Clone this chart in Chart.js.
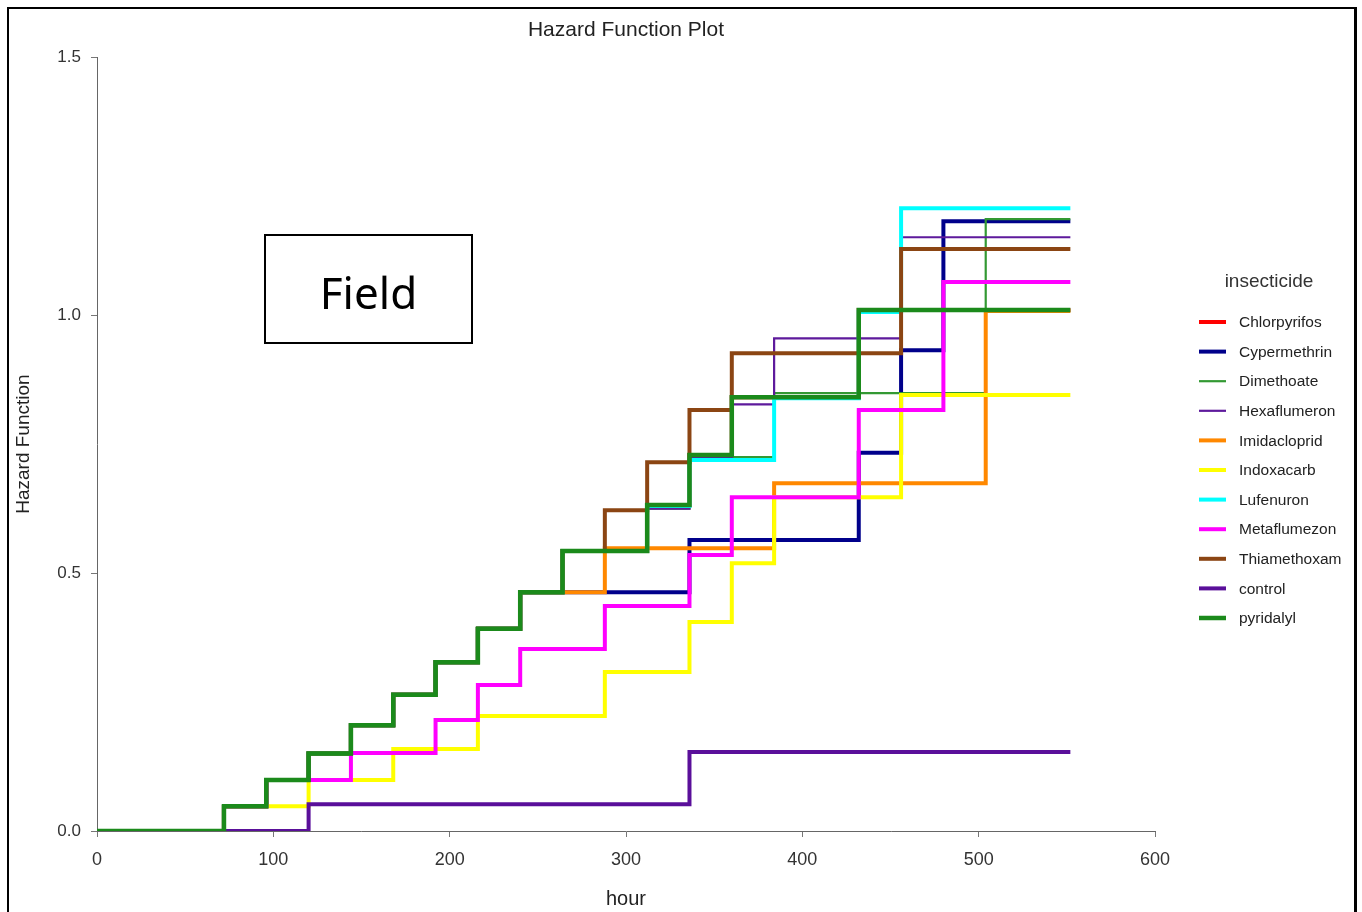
<!DOCTYPE html>
<html>
<head>
<meta charset="utf-8">
<title>Hazard Function Plot</title>
<script src="https://cdn.jsdelivr.net/npm/chart.js@4.4.1/dist/chart.umd.min.js"></script>
<style>
  html, body { margin: 0; padding: 0; background: #fff; }
  body { width: 1362px; height: 912px; position: relative; overflow: hidden; }
  #frame { position: absolute; left: 7px; top: 7px; width: 1345px; height: 930px;
           border: 2px solid #000; border-right-width: 3px; box-sizing: content-box; }
  #grafica { position: absolute; left: 0; top: 0; }
  #field { position: absolute; left: 264px; top: 234px; width: 205px; height: 106px;
           border: 2px solid #000; font-family: "Noto Sans", sans-serif; font-size: 44px;
           display: flex; align-items: center; justify-content: center; color: #000;
           padding-top: 6px; box-sizing: content-box; height: 100px; }
</style>
</head>
<body>
<div id="frame"></div>
<canvas id="grafica" width="1362" height="912"></canvas>
<div id="field">Field</div>
<script>
// tiempos de cada escalon (horas)
const hours = [0, 72, 96, 120, 144, 168, 192, 216, 240, 264, 288, 312, 336, 360, 384, 432, 456, 480, 504, 552];

const insecticides = ['Chlorpyrifos', 'Cypermethrin', 'Dimethoate', 'Hexaflumeron', 'Imidacloprid',
                      'Indoxacarb', 'Lufenuron', 'Metaflumezon', 'Thiamethoxam', 'control', 'pyridalyl'];

// valores (Chlorpyrifos queda oculto debajo de pyridalyl)
const chlorpyrifos = [0, 0.048, 0.099, 0.150, 0.205, 0.264, 0.327, 0.392, 0.463, 0.543, 0.543, 0.632, 0.729, 0.841, 0.841, 1.010, 1.010, 1.010, 1.010, 1.010];
const cypermethrin = [0, 0.048, 0.099, 0.150, 0.205, 0.264, 0.327, 0.392, 0.463, 0.463, 0.463, 0.463, 0.564, 0.564, 0.564, 0.733, 0.932, 1.182, 1.182, 1.182];
const dimethoate   = [0, 0.048, 0.099, 0.150, 0.205, 0.264, 0.327, 0.392, 0.463, 0.543, 0.543, 0.625, 0.725, 0.725, 0.849, 0.849, 0.849, 0.849, 1.186, 1.186];
const hexaflumeron = [0, 0.048, 0.099, 0.150, 0.205, 0.264, 0.327, 0.392, 0.463, 0.543, 0.543, 0.625, 0.725, 0.827, 0.955, 0.955, 1.151, 1.151, 1.151, 1.151];
const imidacloprid = [0, 0.048, 0.099, 0.150, 0.205, 0.264, 0.327, 0.392, 0.463, 0.463, 0.548, 0.548, 0.548, 0.548, 0.674, 0.674, 0.674, 0.674, 1.008, 1.008];
const indoxacarb   = [0, 0.048, 0.048, 0.099, 0.099, 0.159, 0.159, 0.223, 0.223, 0.223, 0.308, 0.308, 0.405, 0.519, 0.647, 0.647, 0.845, 0.845, 0.845, 0.845];
const lufenuron    = [0, 0.048, 0.099, 0.150, 0.205, 0.264, 0.327, 0.392, 0.463, 0.543, 0.543, 0.630, 0.719, 0.719, 0.839, 1.006, 1.207, 1.207, 1.207, 1.207];
const metaflumezon = [0, 0.048, 0.099, 0.099, 0.151, 0.151, 0.215, 0.283, 0.353, 0.353, 0.436, 0.436, 0.535, 0.647, 0.647, 0.816, 0.816, 1.064, 1.064, 1.064];
const thiamethoxam = [0, 0.048, 0.099, 0.150, 0.205, 0.264, 0.327, 0.392, 0.463, 0.543, 0.622, 0.715, 0.816, 0.926, 0.926, 0.926, 1.128, 1.128, 1.128, 1.128];
const control      = [0, 0, 0, 0.052, 0.052, 0.052, 0.052, 0.052, 0.052, 0.052, 0.052, 0.052, 0.153, 0.153, 0.153, 0.153, 0.153, 0.153, 0.153, 0.153];
const pyridalyl    = [0, 0.048, 0.099, 0.150, 0.205, 0.264, 0.327, 0.392, 0.463, 0.543, 0.543, 0.632, 0.729, 0.841, 0.841, 1.010, 1.010, 1.010, 1.010, 1.010];

const seriesValues = [chlorpyrifos, cypermethrin, dimethoate, hexaflumeron, imidacloprid,
                      indoxacarb, lufenuron, metaflumezon, thiamethoxam, control, pyridalyl];

const xTicks = [0, 100, 200, 300, 400, 500, 600];
const yTicks = [0.0, 0.5, 1.0, 1.5];

// estilos
const colores = ['#ff0000', '#00008b', '#339933', '#5e1a9c', '#ff8800', '#ffff00',
                 '#00ffff', '#ff00ff', '#8b4513', '#5a0f9a', '#1b8a1b'];
const grosores = [4, 4, 2.2, 2.2, 4, 4, 4, 4, 4, 4, 4.5];

const FONT = '"Liberation Sans", Arial, sans-serif';

const datasets = insecticides.map((name, i) => ({
    label: name,
    data: hours.map((h, j) => ({ x: h, y: seriesValues[i][j] })),
    borderColor: colores[i],
    backgroundColor: colores[i],
    borderWidth: grosores[i],
    stepped: true,
    pointRadius: 0,
    pointHoverRadius: 0,
    fill: false,
    borderJoinStyle: 'miter',
    borderCapStyle: 'butt',
    // el ultimo de la lista queda encima
    order: insecticides.length - 1 - i
}));

// leyenda dibujada a mano a la derecha
const leyendaPlugin = {
    id: 'leyendaInsecticide',
    afterDraw(chart) {
        const ctx = chart.ctx;
        const x0 = chart.chartArea.right + 44;
        ctx.save();
        ctx.fillStyle = '#333';
        ctx.textBaseline = 'middle';
        ctx.textAlign = 'center';
        ctx.font = '19px ' + FONT;
        ctx.fillText('insecticide', x0 + 70, 282);
        ctx.textAlign = 'left';
        ctx.font = '15.5px ' + FONT;
        chart.data.datasets.forEach((ds, i) => {
            const y = 322 + i * 29.6;
            ctx.strokeStyle = ds.borderColor;
            ctx.lineWidth = ds.borderWidth;
            ctx.beginPath();
            ctx.moveTo(x0, y);
            ctx.lineTo(x0 + 27, y);
            ctx.stroke();
            ctx.fillStyle = '#222';
            ctx.fillText(ds.label, x0 + 40, y + 1);
        });
        ctx.restore();
    }
};

const ctx = document.getElementById('grafica').getContext('2d');
const chart = new Chart(ctx, {
    type: 'line',
    data: { datasets: datasets },
    plugins: [leyendaPlugin],
    options: {
        responsive: false,
        animation: false,
        events: [],
        layout: { padding: { left: 10, right: 207, top: 0, bottom: 1 } },
        plugins: {
            legend: { display: false },
            tooltip: { enabled: false },
            title: {
                display: true,
                text: 'Hazard Function Plot',
                fullSize: false,
                color: '#222',
                font: { family: FONT, size: 21, weight: 'normal' },
                padding: { top: 18, bottom: 14 }
            }
        },
        scales: {
            x: {
                type: 'linear',
                min: 0,
                max: 600,
                afterBuildTicks: (scale) => { scale.ticks = xTicks.map(v => ({ value: v })); },
                afterFit: (scale) => { scale.height = 80; },
                ticks: { color: '#333', font: { family: FONT, size: 18 }, padding: 12, maxRotation: 0 },
                grid: { drawOnChartArea: false, drawTicks: true, tickLength: 6, color: '#777' },
                border: { display: true, color: '#666', width: 1 },
                title: {
                    display: true, text: 'hour', color: '#222',
                    font: { family: FONT, size: 20 }, padding: { top: 0, bottom: 0 }
                }
            },
            y: {
                type: 'linear',
                min: 0,
                max: 1.5,
                afterBuildTicks: (scale) => { scale.ticks = yTicks.map(v => ({ value: v })); },
                afterFit: (scale) => { scale.width = 87; },
                ticks: { color: '#333', font: { family: FONT, size: 17 }, padding: 10,
                         callback: (v) => Number(v).toFixed(1) },
                grid: { drawOnChartArea: false, drawTicks: true, tickLength: 6, color: '#777' },
                border: { display: true, color: '#666', width: 1 },
                title: {
                    display: true, text: 'Hazard Function', color: '#222',
                    font: { family: FONT, size: 19 }, padding: { top: 2, bottom: 0 }
                }
            }
        }
    }
});
</script>
</body>
</html>
